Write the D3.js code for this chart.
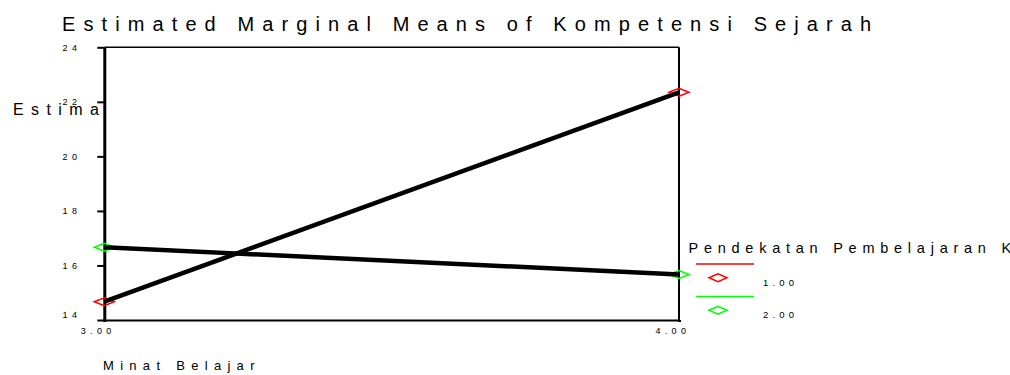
<!DOCTYPE html>
<html>
<head>
<meta charset="utf-8">
<script src="https://cdn.jsdelivr.net/npm/d3@7"></script>
<style>
  html, body { margin: 0; padding: 0; background: #fff; }
  svg { display: block; font-family: "Liberation Sans", Arial, sans-serif; }
</style>
</head>
<body>
<script>
// values
var xLevels = [3, 4];
var xTickLabels = ["3.00", "4.00"];
var groupNames = ["1.00", "2.00"];
var groupColors = ["#ff0000", "#00ff00"];
var meansGroup1 = [14.67, 22.35];
var meansGroup2 = [16.67, 15.67];
var yTicks = [14, 16, 18, 20, 22, 24];

var width = 1010, height = 375;
var plotLeft = 104.3, plotRight = 679, plotTop = 47.3, plotBottom = 320;

var svg = d3.select("body").append("svg")
  .attr("width", width)
  .attr("height", height);

var x = d3.scalePoint().domain(xLevels).range([plotLeft, plotRight]);
var y = d3.scaleLinear().domain([14, 24]).range([plotBottom, plotTop]);

var series = [meansGroup1, meansGroup2].map(function(vals, i) {
  return {
    name: groupNames[i],
    color: groupColors[i],
    points: vals.map(function(v, j) { return { x: xLevels[j], y: v }; })
  };
});

// title
svg.append("text")
  .attr("x", 62)
  .attr("y", 30.5)
  .attr("font-size", 20)
  .attr("letter-spacing", 8.1)
  .text("Estimated Marginal Means of Kompetensi Sejarah");

// y axis title (clipped in the original)
svg.append("text")
  .attr("x", 13)
  .attr("y", 115)
  .attr("font-size", 16)
  .attr("letter-spacing", 7.4)
  .text("Estima");

// x axis title
svg.append("text")
  .attr("x", 103)
  .attr("y", 370)
  .attr("font-size", 13)
  .attr("letter-spacing", 6.3)
  .text("Minat Belajar");

// frame
svg.append("line").attr("x1", plotLeft).attr("x2", plotRight).attr("y1", plotTop).attr("y2", plotTop)
  .attr("stroke", "#000").attr("stroke-width", 1.5);
svg.append("line").attr("x1", plotRight).attr("x2", plotRight).attr("y1", plotTop).attr("y2", plotBottom)
  .attr("stroke", "#000").attr("stroke-width", 2);

// y axis
var yAxis = svg.append("g")
  .attr("transform", "translate(" + plotLeft + ",0)")
  .call(d3.axisLeft(y).tickValues(yTicks).tickSize(7).tickSizeOuter(0).tickFormat(d3.format("d")));
yAxis.select(".domain").attr("stroke-width", 3);
yAxis.selectAll(".tick line").attr("stroke-width", 2);
yAxis.selectAll(".tick text")
  .attr("text-anchor", "start")
  .attr("x", 62.5 - plotLeft)
  .attr("dy", function(d) { return d === 14 ? "-0.3em" : "0.32em"; })
  .attr("font-size", 9)
  .attr("letter-spacing", 4.6)
  .attr("fill", "#000");

// x axis
var xAxis = svg.append("g")
  .attr("transform", "translate(0," + plotBottom + ")")
  .call(d3.axisBottom(x).tickSize(2).tickSizeOuter(0).tickFormat(function(d, i) { return xTickLabels[i]; }));
xAxis.select(".domain").attr("stroke-width", 2);
xAxis.selectAll(".tick line").attr("stroke-width", 3);
xAxis.selectAll(".tick text")
  .attr("text-anchor", "start")
  .attr("x", -24)
  .attr("y", 13.5)
  .attr("dy", null)
  .attr("font-size", 9)
  .attr("letter-spacing", 4.3)
  .attr("fill", "#000");
svg.selectAll("g").attr("font-family", null).attr("font-size", null);

// diamonds
function diamond(w, h) {
  return "M" + (-w / 2) + ",0L0," + (-h / 2) + "L" + (w / 2) + ",0L0," + (h / 2) + "Z";
}

var groups = svg.selectAll(".series")
  .data(series)
  .enter()
  .append("g")
  .attr("class", "series");

groups.selectAll(".marker")
  .data(function(d) { return d.points.map(function(p) { return { p: p, color: d.color }; }); })
  .enter()
  .append("path")
  .attr("class", "marker")
  .attr("d", diamond(20, 8))
  .attr("transform", function(d) { return "translate(" + x(d.p.x) + "," + y(d.p.y) + ")"; })
  .attr("fill", "none")
  .attr("stroke", function(d) { return d.color; })
  .attr("stroke-width", 1.5);

var line = d3.line()
  .x(function(d) { return x(d.x); })
  .y(function(d) { return y(d.y); });

groups.append("path")
  .attr("d", function(d) { return line(d.points); })
  .attr("fill", "none")
  .attr("stroke", "#000")
  .attr("stroke-width", 4.5);

// legend
svg.append("text")
  .attr("x", 688.5)
  .attr("y", 252.7)
  .attr("font-size", 14.5)
  .attr("letter-spacing", 5.75)
  .text("Pendekatan Pembelajaran K");

var legend = svg.selectAll(".legend")
  .data(series)
  .enter()
  .append("g")
  .attr("class", "legend")
  .attr("transform", function(d, i) { return "translate(0," + (i * 32.5) + ")"; });

legend.append("line")
  .attr("x1", 696).attr("x2", 754)
  .attr("y1", 264).attr("y2", 264)
  .attr("stroke", function(d) { return d.color; })
  .attr("stroke-width", 1.5);

legend.append("path")
  .attr("d", diamond(18, 8))
  .attr("transform", "translate(718,277.7)")
  .attr("fill", "none")
  .attr("stroke", function(d) { return d.color; })
  .attr("stroke-width", 1.5);

legend.append("text")
  .attr("x", 763)
  .attr("y", 285.7)
  .attr("font-size", 9.5)
  .attr("letter-spacing", 4.2)
  .text(function(d) { return d.name; });
</script>
</body>
</html>
